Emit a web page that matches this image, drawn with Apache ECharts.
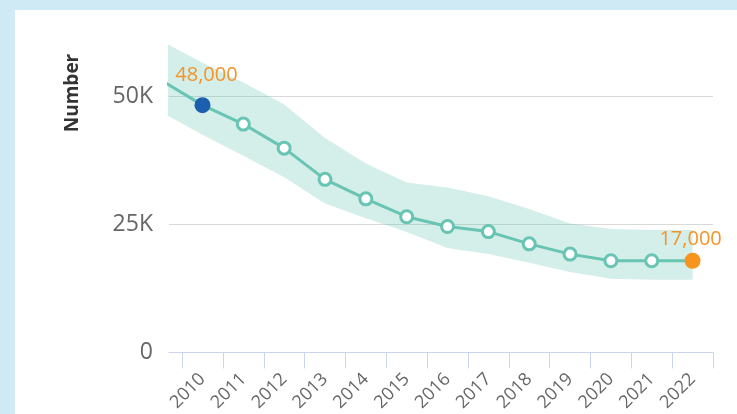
<!DOCTYPE html>
<html><head><meta charset="utf-8">
<script src="https://cdn.jsdelivr.net/npm/echarts@6/dist/echarts.min.js"></script>
<style>
html,body{margin:0;padding:0;background:#cfe9f5;width:737px;height:414px;overflow:hidden}
#c{position:absolute;left:15px;top:10px;width:722px;height:404px;background:#fff}
</style></head><body><div id="c"></div>
<script>
const years = [2009, 2010, 2011, 2012, 2013, 2014, 2015, 2016, 2017, 2018, 2019, 2020, 2021, 2022];
const values = [53100, 48300, 44600, 39900, 33800, 30000, 26500, 24600, 23600, 21200, 19200, 17900, 17900, 17900];
const upper = [60800, 56600, 52700, 48400, 41900, 36900, 33200, 32200, 30500, 28000, 25200, 24100, 23900, 23900];
const lower = [46900, 42500, 38400, 34200, 29100, 26200, 23500, 20400, 19200, 17500, 15700, 14400, 14200, 14200];
const xLabelYears = [2010, 2011, 2012, 2013, 2014, 2015, 2016, 2017, 2018, 2019, 2020, 2021, 2022];
const xTickBounds = [2009.5, 2010.5, 2011.5, 2012.5, 2013.5, 2014.5, 2015.5, 2016.5, 2017.5, 2018.5, 2019.5, 2020.5, 2021.5, 2022.5];
const yTickValues = [0, 25000, 50000];
const highlightYears = [2010, 2022];
const highlightTexts = ['48,000', '17,000'];
const highlightColors = ['#1c5fae', '#f7941e'];
const hiddenYears = [2009];

const FONT = 'Open Sans';
const TEAL = '#68c4b3';

const lineData = years.map((y, i) => {
  const item = { value: [y, values[i]] };
  const h = highlightYears.indexOf(y);
  if (h >= 0) {
    item.symbolSize = 16;
    item.itemStyle = { color: highlightColors[h], borderWidth: 0 };
    item.label = {
      show: true, position: 'top', formatter: highlightTexts[h],
      color: '#f39428', fontSize: 20, fontFamily: FONT,
      distance: h === 0 ? 12 : 3, offset: h === 0 ? [4, 0] : [-2, 0]
    };
  }
  if (hiddenYears.indexOf(y) >= 0) item.symbol = 'none';
  return item;
});

const chart = echarts.init(document.getElementById('c'), null, { renderer: 'canvas' });
chart.setOption({
  animation: false,
  grid: { left: 154, right: 24, top: 25, bottom: 60, containLabel: false },
  xAxis: {
    type: 'value', min: 2009.18, max: 2022.5,
    splitLine: { show: false },
    axisLine: { show: true, lineStyle: { color: '#ccd6eb', width: 1 } },
    axisTick: { show: true, customValues: xTickBounds, length: 16, lineStyle: { color: '#ccd6eb', width: 1 } },
    axisLabel: {
      customValues: xLabelYears, rotate: 45, margin: 24,
      formatter: v => String(v), color: '#666', fontSize: 18, fontFamily: FONT
    }
  },
  yAxis: {
    type: 'value', min: 0, max: 62000, interval: 25000,
    axisLine: { show: false }, axisTick: { show: false },
    splitLine: { showMaxLine: false, lineStyle: { color: '#d9d9d9', width: 1 } },
    axisLabel: {
      margin: 16, color: '#666', fontSize: 23, fontFamily: FONT, showMaxLabel: false,
      formatter: v => yTickValues.indexOf(v) < 0 ? '' : (v === 0 ? '0' : (v / 1000) + 'K')
    }
  },
  graphic: [{
    type: 'text', x: 58, y: 83, rotation: Math.PI / 2,
    style: { text: 'Number', font: 'bold 19px "' + FONT + '"', fill: '#333', align: 'center', verticalAlign: 'middle' }
  }],
  series: [
    {
      type: 'line', stack: 'band', data: years.map((y, i) => [lower[i], y]),
      encode: { x: 1, y: 0 },
      symbol: 'none', lineStyle: { opacity: 0 }, silent: true, z: 1
    },
    {
      type: 'line', stack: 'band', data: years.map((y, i) => [upper[i] - lower[i], y]),
      encode: { x: 1, y: 0 },
      symbol: 'none', lineStyle: { opacity: 0 }, areaStyle: { color: 'rgba(102,194,176,0.28)', opacity: 1 }, silent: true, z: 1
    },
    {
      type: 'line', data: lineData, z: 3,
      symbol: 'circle', symbolSize: 12, showAllSymbol: true,
      lineStyle: { color: TEAL, width: 3 },
      itemStyle: { color: '#fff', borderColor: TEAL, borderWidth: 3 }
    }
  ]
});
</script></body></html>
